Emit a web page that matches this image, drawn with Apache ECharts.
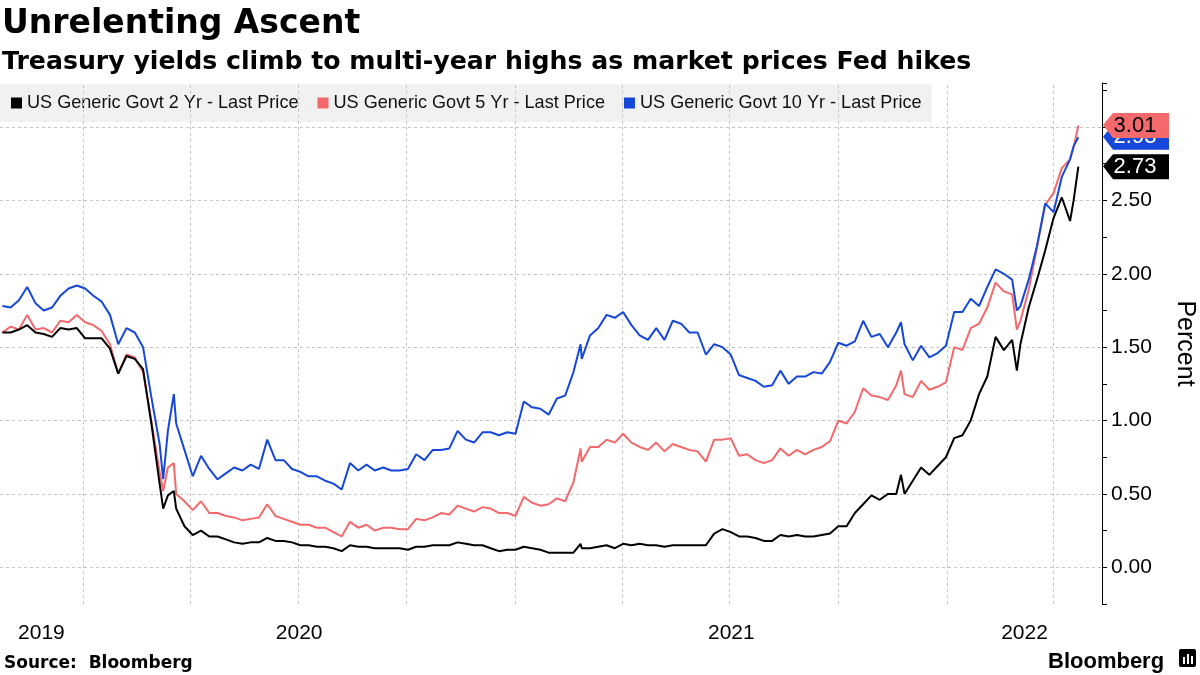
<!DOCTYPE html>
<html>
<head>
<meta charset="utf-8">
<script src="https://cdn.jsdelivr.net/npm/echarts@6/dist/echarts.min.js"></script>
<style>
  html, body { margin: 0; padding: 0; background: #fff; }
  #chart { width: 1200px; height: 675px; }
</style>
</head>
<body>
<div id="chart"></div>
<script>
// ---- Data (roughly weekly) ----
const dates = [
  '2019-10-25','2019-11-01','2019-11-08','2019-11-15','2019-11-22','2019-11-29','2019-12-06','2019-12-13','2019-12-20','2019-12-27',
  '2020-01-03','2020-01-10','2020-01-17','2020-01-24','2020-01-31','2020-02-07','2020-02-14','2020-02-21','2020-02-28','2020-03-06',
  '2020-03-09','2020-03-13','2020-03-18',
  '2020-03-20','2020-03-27','2020-04-03','2020-04-10','2020-04-17','2020-04-24','2020-05-01','2020-05-08','2020-05-15',
  '2020-05-22','2020-05-29','2020-06-05','2020-06-12','2020-06-19','2020-06-26','2020-07-03','2020-07-10','2020-07-17','2020-07-24',
  '2020-07-31','2020-08-07','2020-08-14','2020-08-21','2020-08-28','2020-09-04','2020-09-11','2020-09-18','2020-09-25','2020-10-02',
  '2020-10-09','2020-10-16','2020-10-23','2020-10-30','2020-11-06','2020-11-13','2020-11-20','2020-11-27','2020-12-04','2020-12-11',
  '2020-12-18','2020-12-25','2021-01-01','2021-01-08','2021-01-15','2021-01-22','2021-01-29','2021-02-05','2021-02-12','2021-02-19',
  '2021-02-25',
  '2021-02-26','2021-03-05','2021-03-12','2021-03-19','2021-03-26','2021-04-02','2021-04-09','2021-04-16','2021-04-23','2021-04-30',
  '2021-05-07','2021-05-14','2021-05-21','2021-05-28','2021-06-04','2021-06-11','2021-06-18','2021-06-25','2021-07-02','2021-07-09',
  '2021-07-16','2021-07-23','2021-07-30','2021-08-06','2021-08-13','2021-08-20','2021-08-27','2021-09-03','2021-09-10','2021-09-17',
  '2021-09-24','2021-10-01','2021-10-08','2021-10-15','2021-10-22','2021-10-29','2021-11-05','2021-11-12','2021-11-19',
  '2021-11-23',
  '2021-11-26','2021-12-03','2021-12-10','2021-12-17','2021-12-24','2021-12-31','2022-01-07','2022-01-14','2022-01-21','2022-01-28','2022-02-04',
  '2022-02-11','2022-02-18','2022-02-25',
  '2022-03-01',
  '2022-03-04','2022-03-11','2022-03-18','2022-03-25','2022-04-01','2022-04-08','2022-04-15',
  '2022-04-18',
  '2022-04-22'
];

const tenYear = [
  1.78,1.77,1.82,1.91,1.80,1.75,1.77,1.85,1.90,1.92,
  1.90,1.85,1.81,1.72,1.52,1.63,1.60,1.50,1.16,0.84,
  0.60,0.93,1.18,
  0.98,0.80,0.62,0.76,0.67,0.60,0.64,0.68,0.66,
  0.70,0.67,0.87,0.73,0.73,0.67,0.65,0.62,0.62,0.59,
  0.57,0.53,0.71,0.66,0.70,0.66,0.68,0.66,0.66,0.67,
  0.77,0.73,0.80,0.80,0.81,0.93,0.87,0.85,0.92,0.92,
  0.90,0.92,0.91,1.13,1.09,1.08,1.04,1.15,1.17,1.33,
  1.52,
  1.42,1.58,1.63,1.72,1.70,1.74,1.65,1.58,1.55,1.63,
  1.55,1.68,1.66,1.60,1.60,1.45,1.52,1.50,1.45,1.31,
  1.29,1.27,1.23,1.24,1.34,1.25,1.30,1.30,1.33,1.32,
  1.40,1.53,1.51,1.54,1.68,1.57,1.59,1.50,1.60,
  1.67,
  1.52,1.41,1.51,1.43,1.46,1.51,1.74,1.74,1.83,1.78,1.91,
  2.03,2.00,1.96,
  1.75,
  1.78,1.96,2.19,2.48,2.42,2.66,2.78,
  2.87,
  2.93
];

const fiveYear = [
  1.60,1.64,1.62,1.72,1.62,1.63,1.60,1.68,1.67,1.72,
  1.67,1.65,1.61,1.52,1.32,1.45,1.43,1.33,1.00,0.65,
  0.52,0.68,0.71,
  0.50,0.45,0.39,0.45,0.37,0.37,0.35,0.34,0.32,
  0.33,0.34,0.43,0.35,0.33,0.31,0.29,0.29,0.27,0.27,
  0.24,0.21,0.31,0.27,0.29,0.25,0.27,0.27,0.26,0.26,
  0.33,0.32,0.34,0.37,0.36,0.42,0.40,0.38,0.41,0.40,
  0.37,0.37,0.35,0.48,0.44,0.42,0.43,0.47,0.45,0.58,
  0.81,
  0.72,0.82,0.82,0.87,0.85,0.91,0.85,0.82,0.80,0.85,
  0.79,0.84,0.82,0.80,0.79,0.72,0.87,0.87,0.88,0.76,
  0.77,0.73,0.71,0.73,0.81,0.76,0.80,0.77,0.80,0.82,
  0.86,1.00,0.98,1.06,1.22,1.17,1.16,1.14,1.24,
  1.34,
  1.18,1.16,1.27,1.21,1.23,1.26,1.50,1.48,1.63,1.66,1.77,
  1.94,1.88,1.86,
  1.62,
  1.68,1.89,2.18,2.47,2.55,2.72,2.78,
  2.86,
  3.01
];

const twoYear = [
  1.60,1.60,1.62,1.65,1.60,1.59,1.57,1.63,1.62,1.63,
  1.56,1.56,1.56,1.49,1.32,1.44,1.42,1.35,0.98,0.57,
  0.40,0.49,0.52,
  0.40,0.28,0.22,0.25,0.21,0.21,0.19,0.17,0.16,
  0.17,0.17,0.20,0.18,0.18,0.17,0.15,0.15,0.14,0.14,
  0.13,0.11,0.15,0.14,0.14,0.13,0.13,0.13,0.13,0.12,
  0.14,0.14,0.15,0.15,0.15,0.17,0.16,0.15,0.15,0.13,
  0.11,0.12,0.12,0.14,0.13,0.12,0.10,0.10,0.10,0.10,
  0.16,
  0.13,0.13,0.14,0.15,0.13,0.16,0.15,0.16,0.15,0.15,
  0.14,0.15,0.15,0.15,0.15,0.15,0.23,0.26,0.24,0.21,
  0.21,0.20,0.18,0.18,0.22,0.21,0.22,0.21,0.21,0.22,
  0.23,0.28,0.28,0.37,0.43,0.49,0.46,0.50,0.50,
  0.63,
  0.50,0.59,0.68,0.63,0.69,0.75,0.88,0.90,1.00,1.18,1.30,
  1.57,1.48,1.55,
  1.34,
  1.52,1.77,1.96,2.16,2.38,2.52,2.36,
  2.50,
  2.73
];

const seriesNames = [
  'US Generic Govt 2 Yr - Last Price',
  'US Generic Govt 5 Yr - Last Price',
  'US Generic Govt 10 Yr - Last Price'
];
const xMin = '2019-10-23';
const xMax = '2022-05-12';
const quarterStarts = [
  '2020-01-01','2020-04-01','2020-07-01','2020-10-01',
  '2021-01-01','2021-04-01','2021-07-01','2021-10-01',
  '2022-01-01','2022-04-01'
];
const yearSpans = [
  ['2019', xMin, '2020-01-01'],
  ['2020', '2020-01-01', '2021-01-01'],
  ['2021', '2021-01-01', '2022-01-01'],
  ['2022', '2022-01-01', xMax]
];
const yGridValues = [0, 0.5, 1.0, 1.5, 2.0, 2.5, 3.0];
const yLabelValues = [0, 0.5, 1.0, 1.5, 2.0, 2.5];

// ---- Styling ----
const COLORS = { two: '#000000', five: '#f4696b', ten: '#1548d8' };
const FONT = "'Liberation Sans', Arial, sans-serif";
const HEAD_FONT = "'DejaVu Sans', 'Liberation Sans', sans-serif";
const gridLineStyle = { color: '#c4c4c4', width: 1, type: [3, 3] };

function tag(value, bg, fg, z) {
  return {
    z: z,
    silent: true,
    symbol: 'path://M0,12 L10,0 L66,0 L66,25 L10,25 Z',
    symbolSize: [66, 25],
    symbolKeepAspect: false,
    symbolOffset: [34, 0],
    itemStyle: { color: bg },
    label: {
      show: true, position: 'inside', offset: [-1, 0],
      color: fg, fontFamily: FONT, fontSize: 22,
      formatter: p => Number(p.value).toFixed(2)
    },
    data: [{ coord: [xMax, value], value: value }]
  };
}

function mk(name, values, color, tagFg, z, tagZ, withGrid) {
  const s = {
    name: name,
    type: 'line',
    data: dates.map((d, i) => [d, values[i]]),
    showSymbol: false,
    symbol: 'none',
    z: z,
    lineStyle: { color: color, width: 2 },
    itemStyle: { color: color },
    emphasis: { disabled: true },
    markPoint: tag(values[values.length - 1], color, tagFg, tagZ)
  };
  if (withGrid) {
    s.markLine = {
      silent: true, symbol: ['none', 'none'], z: 1,
      label: { show: false },
      lineStyle: gridLineStyle,
      emphasis: { disabled: true },
      data: quarterStarts.map(d => ({ xAxis: d }))
        .concat(yGridValues.map(v => ({ yAxis: v })))
    };
    s.markArea = {
      silent: true, z: 1,
      itemStyle: { color: 'rgba(0,0,0,0)' },
      label: {
        show: true, position: 'bottom', distance: 19,
        color: '#000', fontFamily: FONT, fontSize: 21
      },
      emphasis: { disabled: true },
      data: yearSpans.map(s => [{ name: s[0], xAxis: s[1] }, { xAxis: s[2] }])
    };
  }
  return s;
}

const chart = echarts.init(document.getElementById('chart'), null, { renderer: 'canvas' });
chart.setOption({
  animation: false,
  backgroundColor: '#ffffff',
  textStyle: { fontFamily: FONT },
  title: [
    { text: 'Unrelenting Ascent', left: 2, top: 8, padding: 0,
      textStyle: { fontFamily: HEAD_FONT, fontSize: 33, fontWeight: 'bold', color: '#000' } },
    { text: 'Treasury yields climb to multi-year highs as market prices Fed hikes', left: 2, top: 50, padding: 0,
      textStyle: { fontFamily: HEAD_FONT, fontSize: 25.2, fontWeight: 'bold', color: '#000' } },
    { text: 'Source:  Bloomberg', left: 4, top: 655, padding: 0,
      textStyle: { fontFamily: HEAD_FONT, fontSize: 17, fontWeight: 'bold', color: '#000' } },
    { text: 'Bloomberg', left: 1048, top: 651, padding: 0,
      textStyle: { fontFamily: FONT, fontSize: 22, fontWeight: 'bold', color: '#000' } }
  ],
  graphic: [
    { type: 'rect', left: 1179, top: 649, shape: { width: 17, height: 18, r: 2 }, style: { fill: '#000' } },
    { type: 'rect', left: 1183, top: 657, shape: { width: 2, height: 7 }, style: { fill: '#fff' } },
    { type: 'rect', left: 1187, top: 654, shape: { width: 2, height: 10 }, style: { fill: '#fff' } },
    { type: 'rect', left: 1191, top: 656, shape: { width: 2, height: 8 }, style: { fill: '#fff' } }
  ],
  legend: {
    data: seriesNames,
    left: 0, top: 84,
    z: 0,
    padding: [10, 10, 10, 11],
    itemGap: 19,
    itemWidth: 11, itemHeight: 11,
    icon: 'rect',
    backgroundColor: 'rgba(236,236,236,0.75)',
    selectedMode: false,
    textStyle: { fontFamily: FONT, fontSize: 18.1, color: '#111' }
  },
  grid: { left: 0, right: 98, top: 83, bottom: 71, containLabel: false, outerBoundsMode: 'none' },
  xAxis: {
    type: 'time',
    min: xMin, max: xMax,
    axisLine: { show: false },
    axisTick: { show: false },
    splitLine: { show: false },
    axisLabel: { show: false }
  },
  yAxis: {
    type: 'value',
    position: 'right',
    min: -0.25, max: 3.3, interval: 0.25,
    name: 'Percent',
    nameLocation: 'middle',
    nameRotate: -90,
    nameGap: 70,
    nameTextStyle: { fontFamily: FONT, fontSize: 25, color: '#000' },
    axisLine: { show: true, lineStyle: { color: '#000', width: 1 } },
    axisTick: { show: true, inside: false, length: 5, lineStyle: { color: '#000', width: 1 } },
    splitLine: { show: false },
    axisLabel: {
      margin: 9,
      color: '#000', fontFamily: FONT, fontSize: 21,
      formatter: v => {
        const r = Math.round(v * 100) / 100;
        return yLabelValues.some(t => Math.abs(t - r) < 1e-6) ? r.toFixed(2) : '';
      }
    }
  },
  series: [
    mk(seriesNames[1], fiveYear, COLORS.five, '#000', 2, 12, true),
    mk(seriesNames[0], twoYear, COLORS.two, '#fff', 3, 10, false),
    mk(seriesNames[2], tenYear, COLORS.ten, '#fff', 4, 11, false)
  ]
});
</script>
</body>
</html>
